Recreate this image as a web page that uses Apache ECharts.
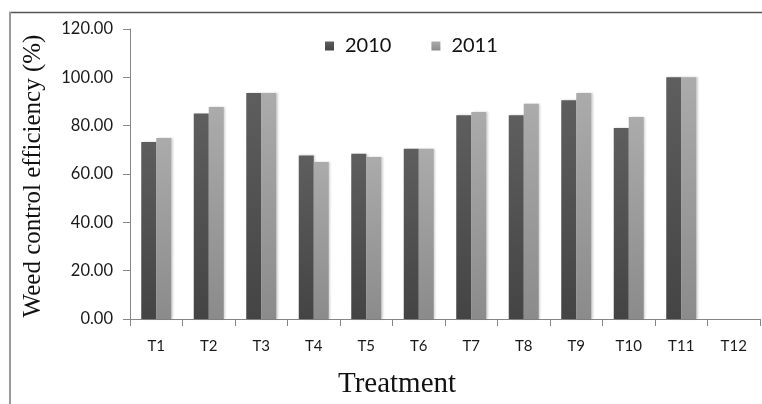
<!DOCTYPE html>
<html>
<head>
<meta charset="utf-8">
<script src="https://cdn.jsdelivr.net/npm/echarts@6/dist/echarts.min.js"></script>
<style>
  html, body { margin: 0; padding: 0; background: #fff; }
  #chart { width: 762px; height: 404px; }
</style>
</head>
<body>
<div id="chart"></div>
<script>
// Treatments on the category axis
const treatments = ['T1', 'T2', 'T3', 'T4', 'T5', 'T6', 'T7', 'T8', 'T9', 'T10', 'T11', 'T12'];
// Weed control efficiency (%) by year; T12 has no value
const eff2010 = [73.2, 85.0, 93.5, 67.7, 68.4, 70.5, 84.3, 84.3, 90.5, 79.0, 100.0, null];
const eff2011 = [74.9, 87.7, 93.5, 65.0, 67.0, 70.5, 85.7, 89.1, 93.5, 83.6, 100.0, null];
const yearNames = ['2010', '2011'];

const chart = echarts.init(document.getElementById('chart'), null, { renderer: 'canvas' });

function grad(top, bottom) {
  return new echarts.graphic.LinearGradient(0, 0, 0, 1, [
    { offset: 0, color: top },
    { offset: 1, color: bottom }
  ]);
}

const labelFont = 'Lato, "Open Sans", sans-serif';
const serifFont = '"Liberation Serif", "Times New Roman", serif';

chart.setOption({
  animation: false,
  backgroundColor: '#ffffff',
  grid: { left: 130, right: 2, top: 29, bottom: 85, containLabel: false },
  legend: {
    data: yearNames,
    left: 320,
    top: 31,
    icon: 'rect',
    itemWidth: 9,
    itemHeight: 9,
    itemGap: 40,
    textStyle: { fontFamily: labelFont, fontSize: 20, color: '#111', padding: [0, 0, 0, 6] }
  },
  xAxis: {
    type: 'category',
    data: treatments,
    boundaryGap: true,
    axisLine: { lineStyle: { color: '#868686', width: 1 } },
    axisTick: { show: true, length: 7, lineStyle: { color: '#868686' } },
    axisLabel: { fontFamily: labelFont, fontSize: 15, color: '#1a1a1a', margin: 20 },
    splitLine: { show: false }
  },
  yAxis: {
    type: 'value',
    min: 0,
    max: 120,
    interval: 20,
    axisLine: { show: true, lineStyle: { color: '#868686', width: 1 } },
    axisTick: { show: true, length: 7, lineStyle: { color: '#868686' } },
    axisLabel: {
      fontFamily: labelFont, fontSize: 16.5, color: '#1a1a1a', margin: 17,
      formatter: v => v.toFixed(2)
    },
    splitLine: { show: false }
  },
  series: [
    {
      name: yearNames[0],
      type: 'bar',
      data: eff2010,
      barWidth: 15,
      barGap: '0%',
      itemStyle: {
        color: grad('#5e5e5e', '#444444'),
        shadowColor: 'rgba(0,0,0,0.18)', shadowBlur: 2, shadowOffsetX: 1.5
      }
    },
    {
      name: yearNames[1],
      type: 'bar',
      data: eff2011,
      barWidth: 15,
      barGap: '0%',
      itemStyle: {
        color: grad('#ababab', '#8b8b8b'),
        shadowColor: 'rgba(0,0,0,0.18)', shadowBlur: 2, shadowOffsetX: 1.5
      }
    }
  ],
  graphic: [
    // chart frame (top and left edges visible)
    { type: 'line', shape: { x1: 9, y1: 12.5, x2: 762, y2: 12.5 }, style: { stroke: '#555', lineWidth: 1.5 } },
    { type: 'line', shape: { x1: 10, y1: 12, x2: 10, y2: 404 }, style: { stroke: '#9a9a9a', lineWidth: 2 } },
    {
      type: 'text',
      x: 33,
      y: 176,
      rotation: Math.PI / 2,
      style: {
        text: 'Weed control efficiency (%)',
        font: '25px ' + serifFont,
        fill: '#111',
        align: 'center',
        verticalAlign: 'middle'
      }
    },
    {
      type: 'text',
      x: 397,
      y: 384,
      style: {
        text: 'Treatment',
        font: '29px ' + serifFont,
        fill: '#111',
        align: 'center',
        verticalAlign: 'middle'
      }
    }
  ]
});
</script>
</body>
</html>
